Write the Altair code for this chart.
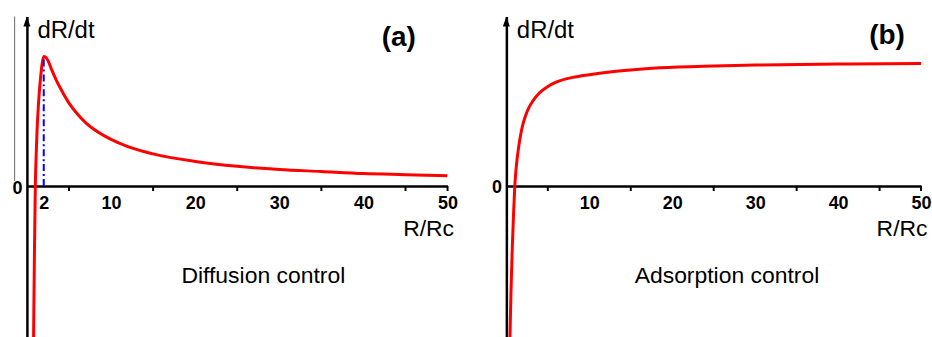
import altair as alt
import pandas as pd

# ---------------- data ----------------
# Panel (a): diffusion control
a_x = [0.78, 0.9, 1.0, 1.1, 1.2, 1.4, 1.6, 1.8, 2.0, 2.2, 2.5, 3, 3.5, 4, 5, 6, 7, 8,
       10, 12, 15, 20, 25, 30, 35, 40, 45, 50]
a_y = [-0.31, -0.12, 0.0, 0.06, 0.105, 0.165, 0.205, 0.235, 0.25, 0.249, 0.242, 0.222,
       0.204, 0.188, 0.16, 0.139, 0.122, 0.109, 0.09, 0.076, 0.062, 0.0475, 0.038,
       0.032, 0.028, 0.024, 0.022, 0.02]
peak_x = [2]
peak_y = [0.25]

# Panel (b): adsorption control
b_x = [0.43, 0.55, 0.7, 0.85, 1.0, 1.15, 1.3, 1.5, 1.75, 2.0, 2.3, 2.7, 3.2, 4.0, 5.0,
       6.0, 8.0, 10, 12.5, 15, 18.5, 25, 30, 40, 50]
b_y = [-1.22, -0.86, -0.52, -0.25, -0.02, 0.12, 0.22, 0.32, 0.42, 0.495, 0.56, 0.625,
       0.68, 0.745, 0.795, 0.83, 0.868, 0.89, 0.912, 0.928, 0.945, 0.96, 0.967, 0.975,
       0.98]

a_label_values = [2, 10, 20, 30, 40, 50]
b_label_values = [10, 20, 30, 40, 50]
minor_tick_values = [5, 15, 25, 35, 45, 50]

# Text annotations (data coordinates)
a_notes = ["(a)", "Diffusion control"]
a_note_x = [44.2, 28.1]
a_note_y = [0.285, -0.173]
b_notes = ["(b)", "Adsorption control"]
b_note_x = [45.9, 26.6]
b_note_y = [1.195, -0.717]

# stray vertical line left of the axis in panel (a)
stray_x = [-1.46]
stray_y = [0.327]
stray_y2 = [0.01]

FONT = "Liberation Sans"
H = 322
ARROW = "M0,0L0.7,2L-0.7,2Z"


def panel(xs, ys, width, ydom, label_values, notes, nx, ny, extra=None):
    zero_px = round(ydom[1] / (ydom[1] - ydom[0]) * H)
    offset = zero_px - H
    px_per_unit = H / (ydom[1] - ydom[0])
    xaxis = alt.Axis(
        values=label_values,
        ticks=False,
        offset=offset,
        grid=False,
        domainColor="black", domainWidth=2.5,
        labelFont=FONT, labelFontSize=18, labelFontWeight="bold", labelColor="black",
        labelPadding=9, labelFlush=False, labelOverlap=False,
        title="R/Rc", titleFont=FONT, titleFontSize=23, titleFontWeight="normal",
        titleColor="black", titleX=width + 6, titleY=50, titleAlign="right",
        titleBaseline="alphabetic",
    )
    yaxis = alt.Axis(
        values=[0], ticks=False, grid=False, format="d",
        domainColor="black", domainWidth=2.5,
        labelFont=FONT, labelFontSize=18, labelFontWeight="bold", labelColor="black",
        labelPadding=5, labelOffset=2, labelFlush=False,
        title="dR/dt", titleFont=FONT, titleFontSize=24, titleFontWeight="normal",
        titleColor="black", titleAngle=0, titleX=10, titleY=21, titleAlign="left",
        titleBaseline="alphabetic",
    )
    xscale = alt.Scale(domain=[0, 50], nice=False, zero=False)
    yscale = alt.Scale(domain=ydom, nice=False, zero=False)

    curve = alt.Chart(pd.DataFrame({"x": xs, "y": ys})).mark_line(
        color="#ff0000", strokeWidth=3, clip=True, interpolate="monotone"
    ).encode(
        x=alt.X("x:Q", scale=xscale, axis=xaxis),
        y=alt.Y("y:Q", scale=yscale, axis=yaxis),
    )

    tick_len = 5 / px_per_unit
    ticks = alt.Chart(pd.DataFrame({
        "x": minor_tick_values,
        "y": [0] * len(minor_tick_values),
        "y2": [-tick_len] * len(minor_tick_values),
    })).mark_rule(color="black", strokeWidth=2).encode(
        x="x:Q", y="y:Q", y2="y2:Q")

    arrow = alt.Chart(pd.DataFrame({"x": [0], "y": [ydom[1]]})).mark_point(
        shape=ARROW, filled=True, size=100, color="black", opacity=1
    ).encode(x="x:Q", y="y:Q")

    label = alt.Chart(pd.DataFrame({"x": nx[:1], "y": ny[:1], "t": notes[:1]})).mark_text(
        font=FONT, fontSize=28, fontWeight="bold", color="black",
        align="center", baseline="middle"
    ).encode(x="x:Q", y="y:Q", text="t:N")
    caption = alt.Chart(pd.DataFrame({"x": nx[1:], "y": ny[1:], "t": notes[1:]})).mark_text(
        font=FONT, fontSize=23, fontWeight="normal", color="black",
        align="center", baseline="middle"
    ).encode(x="x:Q", y="y:Q", text="t:N")

    layers = [curve, ticks]
    if extra is not None:
        layers += extra
    layers += [arrow, label, caption]
    return alt.layer(*layers).properties(width=width, height=H)


dash = alt.Chart(pd.DataFrame({"x": peak_x, "y": [0] * len(peak_x), "y2": peak_y})).mark_rule(
    color="#0000ff", strokeWidth=2, strokeDash=[7, 3, 2, 3]
).encode(x="x:Q", y="y:Q", y2="y2:Q")
stray = alt.Chart(pd.DataFrame({"x": stray_x, "y": stray_y, "y2": stray_y2})).mark_rule(
    color="#666666", strokeWidth=1
).encode(x="x:Q", y="y:Q", y2="y2:Q")

pa = panel(a_x, a_y, 422, [-0.292, 0.327], a_label_values, a_notes, a_note_x, a_note_y,
           [dash, stray])
pb = panel(b_x, b_y, 416, [-1.211, 1.355], b_label_values, b_notes, b_note_x, b_note_y)

chart = alt.hconcat(pa, pb, spacing=59, bounds="flush").properties(
    padding={"left": 11, "top": 15, "right": 0, "bottom": 0},
    background="white",
).configure_view(stroke=None)

chart.save("out.html", embed_options={"renderer": "svg", "actions": False})
